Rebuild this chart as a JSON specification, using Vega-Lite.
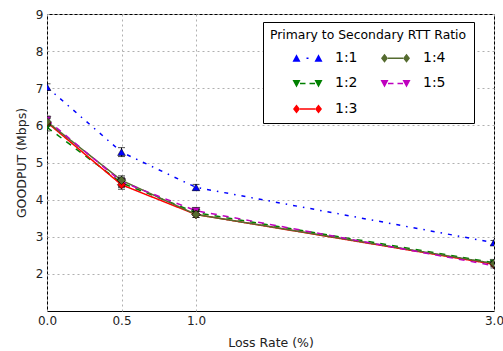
{
  "$schema": "https://vega.github.io/schema/vega-lite/v6.json",
  "width": 447,
  "height": 297,
  "autosize": "none",
  "padding": {"left": 47, "top": 14, "right": 9, "bottom": 40},
  "background": "white",
  "config": {
    "font": "DejaVu Sans",
    "view": {"stroke": "black", "strokeWidth": 1},
    "axis": {
      "labelFont": "DejaVu Sans", "titleFont": "DejaVu Sans",
      "labelFontSize": 12, "titleFontSize": 12.5, "titleFontWeight": "normal",
      "labelColor": "#222", "titleColor": "#222",
      "gridColor": "#b0b0b0", "gridDash": [2, 3], "gridWidth": 1,
      "domain": false, "ticks": false, "labelPadding": 4, "labelFlush": false
    },
    "legend": {
      "padding": 7, "fillColor": "white", "strokeColor": "black", "strokeWidth": 1,
      "cornerRadius": 0, "columns": 2, "titleLimit": 400, "labelLimit": 200,
      "titleFont": "DejaVu Sans", "titleFontSize": 12.4, "titleFontWeight": "normal",
      "titleColor": "#000", "titlePadding": 4,
      "labelFont": "DejaVu Sans", "labelFontSize": 14, "labelColor": "#000",
      "labelOffset": 15, "symbolSize": 625, "symbolStrokeWidth": 0,
      "symbolOffset": 25, "rowPadding": 5.5, "columnPadding": -3, "symbolOpacity": 1
    }
  },
  "data": {
    "values": [
      {"series": "1:1", "loss": 0, "goodput": 7.03, "lo": 6.94, "hi": 7.12},
      {"series": "1:1", "loss": 0.5, "goodput": 5.28, "lo": 5.16, "hi": 5.4},
      {"series": "1:1", "loss": 1, "goodput": 4.33, "lo": 4.25, "hi": 4.41},
      {"series": "1:1", "loss": 3, "goodput": 2.84, "lo": 2.78, "hi": 2.9},
      {"series": "1:2", "loss": 0, "goodput": 5.95, "lo": 5.85, "hi": 6.05},
      {"series": "1:2", "loss": 0.5, "goodput": 4.45, "lo": 4.33, "hi": 4.57},
      {"series": "1:2", "loss": 1, "goodput": 3.65, "lo": 3.57, "hi": 3.73},
      {"series": "1:2", "loss": 3, "goodput": 2.3, "lo": 2.24, "hi": 2.36},
      {"series": "1:3", "loss": 0, "goodput": 6.08, "lo": 5.98, "hi": 6.18},
      {"series": "1:3", "loss": 0.5, "goodput": 4.4, "lo": 4.28, "hi": 4.52},
      {"series": "1:3", "loss": 1, "goodput": 3.6, "lo": 3.52, "hi": 3.68},
      {"series": "1:3", "loss": 3, "goodput": 2.26, "lo": 2.2, "hi": 2.32},
      {"series": "1:4", "loss": 0, "goodput": 6.1, "lo": 6.0, "hi": 6.2},
      {"series": "1:4", "loss": 0.5, "goodput": 4.52, "lo": 4.4, "hi": 4.64},
      {"series": "1:4", "loss": 1, "goodput": 3.6, "lo": 3.52, "hi": 3.68},
      {"series": "1:4", "loss": 3, "goodput": 2.28, "lo": 2.22, "hi": 2.34},
      {"series": "1:5", "loss": 0, "goodput": 6.15, "lo": 6.05, "hi": 6.25},
      {"series": "1:5", "loss": 0.5, "goodput": 4.48, "lo": 4.36, "hi": 4.6},
      {"series": "1:5", "loss": 1, "goodput": 3.7, "lo": 3.62, "hi": 3.78},
      {"series": "1:5", "loss": 3, "goodput": 2.22, "lo": 2.16, "hi": 2.28}
    ]
  },
  "encoding": {
    "x": {
      "field": "loss", "type": "quantitative",
      "scale": {"domain": [0, 3], "nice": false, "zero": false},
      "axis": {"values": [0, 0.5, 1, 3], "format": ".1f", "title": "Loss Rate (%)", "titlePadding": 10}
    },
    "y": {
      "field": "goodput", "type": "quantitative",
      "scale": {"domain": [1, 9], "nice": false, "zero": false},
      "axis": {"values": [2, 3, 4, 5, 6, 7, 8, 9], "title": "GOODPUT (Mbps)", "titlePadding": 7}
    },
    "color": {
      "field": "series", "type": "nominal", "title": "Primary to Secondary RTT Ratio",
      "scale": {
        "domain": ["1:1", "1:2", "1:3", "1:4", "1:5"],
        "range": ["#0000ff", "#008000", "#ff0000", "#556b2f", "#bf00bf"]
      },
      "legend": {"orient": "none", "legendX": 216, "legendY": 8, "columns": 2}
    }
  },
  "layer": [
    {
      "mark": {"type": "line", "strokeWidth": 1.5, "clip": true},
      "encoding": {
        "strokeDash": {
          "field": "series", "type": "nominal", "title": "Primary to Secondary RTT Ratio",
          "scale": {
            "domain": ["1:1", "1:2", "1:3", "1:4", "1:5"],
            "range": [[4, 6, 1.5, 6], [6, 6], [1, 0], [1, 0], [6, 6]]
          },
          "legend": null
        }
      }
    },
    {
      "mark": {"type": "errorbar", "ticks": {"size": 7}, "clip": true},
      "encoding": {
        "y": {"field": "lo", "type": "quantitative"},
        "y2": {"field": "hi"},
        "color": {"value": "black"}
      }
    },
    {
      "transform": [{"filter": "datum.series === '1:1'"}],
      "mark": {"type": "point", "shape": "triangle-up", "filled": true, "size": 60, "stroke": "black", "strokeWidth": 0.5, "opacity": 1, "clip": true}
    },
    {
      "transform": [{"filter": "datum.series === '1:2' || datum.series === '1:5'"}],
      "mark": {"type": "point", "shape": "triangle-down", "filled": true, "size": 60, "stroke": "black", "strokeWidth": 0.5, "opacity": 1, "clip": true}
    },
    {
      "transform": [{"filter": "datum.series === '1:3' || datum.series === '1:4'"}],
      "mark": {"type": "point", "shape": "diamond", "filled": true, "size": 70, "stroke": "black", "strokeWidth": 0.5, "opacity": 1, "clip": true}
    },
    {
      "mark": {"type": "point", "filled": true, "opacity": 0},
      "encoding": {
        "shape": {
          "field": "series", "type": "nominal", "title": "Primary to Secondary RTT Ratio",
          "scale": {
            "domain": ["1:1", "1:2", "1:3", "1:4", "1:5"],
            "range": [
              "M-1.2,0.28L-0.56,0.28L-0.88,-0.32Z M0.56,0.28L1.2,0.28L0.88,-0.32Z M-0.08,-0.06H0.08V0.06H-0.08Z",
              "M-1.2,-0.28L-0.56,-0.28L-0.88,0.32Z M0.56,-0.28L1.2,-0.28L0.88,0.32Z M-0.6,-0.06H-0.16V0.06H-0.6Z M0.16,-0.06H0.6V0.06H0.16Z",
              "M-0.88,-0.36L-0.6,0L-0.88,0.36L-1.16,0Z M0.88,-0.36L1.16,0L0.88,0.36L0.6,0Z M-0.6,-0.06H0.6V0.06H-0.6Z",
              "M-0.88,-0.36L-0.6,0L-0.88,0.36L-1.16,0Z M0.88,-0.36L1.16,0L0.88,0.36L0.6,0Z M-0.6,-0.06H0.6V0.06H-0.6Z",
              "M-1.2,-0.28L-0.56,-0.28L-0.88,0.32Z M0.56,-0.28L1.2,-0.28L0.88,0.32Z M-0.6,-0.06H-0.16V0.06H-0.6Z M0.16,-0.06H0.6V0.06H0.16Z"
            ]
          },
          "legend": {"orient": "none", "legendX": 216, "legendY": 8, "columns": 2}
        }
      }
    }
  ]
}
